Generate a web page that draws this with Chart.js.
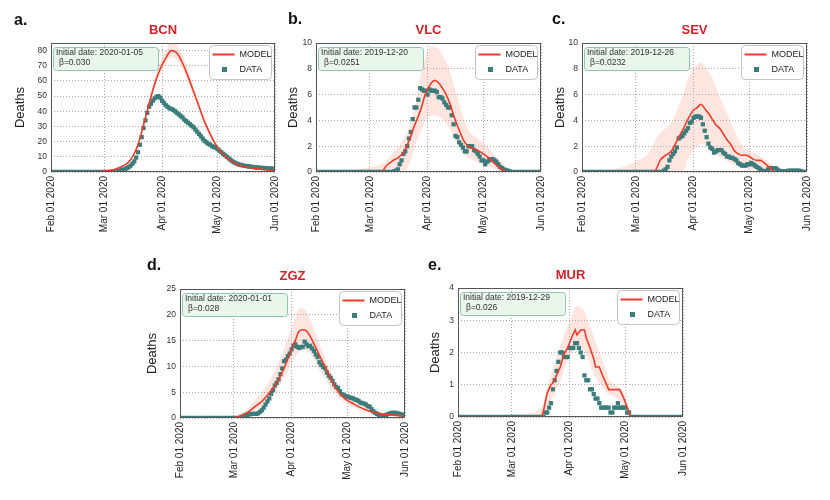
<!DOCTYPE html>
<html>
<head>
<meta charset="utf-8">
<script src="https://cdn.jsdelivr.net/npm/chart.js@4.4.1/dist/chart.umd.min.js"></script>
<style>
  html, body { margin: 0; padding: 0; background: #fff; }
  #wrap { position: relative; width: 830px; height: 500px; }
  #wrap canvas { position: absolute; left: 0; top: 0; }
</style>
</head>
<body>
<div id="wrap">
  <canvas id="c0" width="830" height="500"></canvas>
  <canvas id="c1" width="830" height="500"></canvas>
  <canvas id="c2" width="830" height="500"></canvas>
  <canvas id="c3" width="830" height="500"></canvas>
  <canvas id="c4" width="830" height="500"></canvas>
</div>
<script>
// x axis: days since Feb 01 2020
const tickDays = [0, 29, 60, 90, 121];
const tickLabels = ['Feb 01 2020', 'Mar 01 2020', 'Apr 01 2020', 'May 01 2020', 'Jun 01 2020'];

const letters = ['a.', 'b.', 'c.', 'd.', 'e.'];
const regions = ['BCN', 'VLC', 'SEV', 'ZGZ', 'MUR'];
const initialDates = ['2020-01-05', '2019-12-20', '2019-12-26', '2020-01-01', '2019-12-29'];
const betas = ['0.030', '0.0251', '0.0232', '0.028', '0.026'];
const yMaxes = [85, 10, 10, 25, 4];
const yTicks = [
  [0, 10, 20, 30, 40, 50, 60, 70, 80],
  [0, 2, 4, 6, 8, 10],
  [0, 2, 4, 6, 8, 10],
  [0, 5, 10, 15, 20, 25],
  [0, 1, 2, 3, 4]
];

// BCN
const bcnModelDays = [0,10,20,25,29,32,35,38,41,44,47,50,53,56,59,62,65,68,71,74,77,80,83,86,89,92,95,98,101,105,110,115,121];
const bcnModel = [0,0,0.1,0.3,0.6,1.2,2,3.5,5.5,10,18,31,45,58,68,75,80,78.5,72,63,53,43,33,25,18,13,9.5,6.8,5,3.5,2.4,1.6,1];
const bcnHi = [0,0,0.1,0.3,0.7,1.3,2.2,3.8,6,11,19.5,33,47.5,61.5,72,80,85.5,84,77,67,56.5,45.5,35,26.5,19,14,10,7.2,5.3,3.7,2.5,1.7,1.1];
const bcnLo = [0,0,0.1,0.3,0.5,1.1,1.8,3.2,5,9,16.5,29,42.5,55,64.5,71,75.5,74,68,59.5,50,40.5,31,23.5,17,12,9,6.4,4.7,3.3,2.3,1.5,0.9];
const bcnData = [
  0,0,0,0,0,0,0,0,0,0,
  0,0,0,0,0,0,0,0,0,0,
  0,0,0,0,0,0,0,0,0,0,
  0,0,0,0,0,0.3,0.5,0.8,1.2,1.6,
  2,2.5,3.2,4.2,5.5,7,9.5,13,18,23,
  29,34,39,43,45,47,48.5,49.5,50,49,
  47,45.5,44,43,42,41.5,41,40,39,38,
  37,36,34.5,33.5,32.5,31.5,30.5,29.5,28,26.5,
  25,23.5,22,20.5,19.5,18.5,18,17,16.5,16,
  15,14,13,12,11,10,9,8,7,6.3,
  5.7,5.2,4.8,4.5,4.2,4,3.8,3.6,3.5,3.3,
  3.1,3,2.9,2.8,2.7,2.6,2.5,2.4,2.3,2.2,
  2.1,2
];

// VLC
const vlcModelDays = [0,10,20,30,35,38,41,44,47,50,53,56,59,62,64,66,68,70,72,74,76,78,80,83,86,89,92,95,98,101,105,110,121];
const vlcModel = [0,0,0,0,0,0.5,0.85,1.1,1.5,2.4,3.6,4.7,6.1,6.9,7.1,6.9,6.5,6.0,5.3,4.4,3.6,2.9,2.3,1.9,1.75,1.5,1.2,0.8,0.4,0.1,0,0,0];
const vlcHi = [0,0.05,0.15,0.4,0.6,0.9,1.4,1.9,2.5,3.4,5,7.2,9,9.7,9.7,9.5,9,8.5,7.8,6.8,5.8,4.8,3.9,3,2.7,2.3,2,1.5,1,0.6,0.2,0,0];
const vlcLo = [0,0,0,0,0,0,0,0,0,0.5,1.9,3,4,4.4,4.4,4.3,4.1,3.8,3.3,2.8,2.3,1.7,1.3,1.0,0.8,0.6,0.5,0.3,0.1,0,0,0,0];
const vlcData = [
  0,0,0,0,0,0,0,0,0,0,
  0,0,0,0,0,0,0,0,0,0,
  0,0,0,0,0,0,0,0,0,0,
  0,0,0,0,0,0,0,0,0,0,
  0,0,0.05,0.1,0.2,0.6,0.9,1.4,1.6,2.0,
  2.6,3.1,4.1,5.0,5.0,5.6,6.5,6.4,6.3,6.3,
  6.0,6.4,6.3,6.3,6.3,6.2,5.8,5.8,5.7,5.4,
  5.2,5.0,5.0,4.4,3.7,2.8,2.7,2.3,2.1,1.9,
  1.6,1.6,2.0,2.0,2.0,1.7,1.6,1.4,1.2,0.9,
  0.9,0.6,0.8,0.9,1.0,1.0,0.9,0.8,0.6,0.4,
  0.3,0.2,0.15,0.1,0.05,0,0,0,0,0,
  0,0,0,0,0,0,0,0,0,0,
  0,0
];

// SEV
const sevModelDays = [0,10,20,30,36,39,42,45,48,51,54,57,60,62,64,66,68,70,72,74,76,78,80,82,84,86,88,90,92,94,96,98,100,102,104,110,121];
const sevModel = [0,0,0,0,0,0.05,0.9,1.3,1.6,2.4,3.2,4.1,4.8,5.0,5.25,4.9,4.55,4.1,3.65,3.4,2.95,2.5,2.15,1.65,1.4,1.3,1.3,1.2,1.0,0.9,0.9,0.7,0.45,0.2,0,0,0];
const sevHi = [0.02,0.1,0.3,0.9,1.5,2.3,3.0,3.4,3.8,4.8,5.8,7.2,8.0,8.3,8.5,8.2,7.8,7.3,6.6,5.9,5.2,4.5,3.8,3.2,2.6,2.1,1.8,1.6,1.5,1.4,1.2,1.0,0.8,0.6,0.35,0,0];
const sevLo = [0,0,0,0,0,0,0,0,0,0,0,1.0,1.7,2.0,2.2,2.1,1.9,1.7,1.4,1.2,1.0,0.85,0.7,0.55,0.45,0.35,0.3,0.2,0.15,0.1,0.05,0,0,0,0,0,0];
const sevData = [
  0,0,0,0,0,0,0,0,0,0,
  0,0,0,0,0,0,0,0,0,0,
  0,0,0,0,0,0,0,0,0,0,
  0,0,0,0,0,0,0,0,0,0,
  0,0,0,0,0.1,0.2,0.4,0.9,1.2,1.4,
  1.6,1.9,2.6,2.7,2.8,3.0,3.2,3.4,3.8,3.9,
  4.2,4.3,4.3,4.3,4.2,3.7,3.2,2.7,2.2,1.9,
  1.8,1.5,1.6,1.7,1.7,1.7,1.5,1.4,1.2,1.2,
  1.1,1.1,1.0,0.9,0.7,0.6,0.5,0.5,0.5,0.6,
  0.6,0.7,0.6,0.5,0.4,0.3,0.2,0.1,0.05,0.05,
  0.2,0.3,0.3,0.3,0.3,0.2,0.1,0.05,0.05,0.05,
  0.05,0.1,0.1,0.1,0.1,0.1,0.1,0.1,0.05,0,
  0,0
];

// ZGZ
const zgzModelDays = [0,10,20,25,29,32,35,38,41,44,47,50,53,56,59,62,64,66,68,70,72,74,76,78,80,82,84,86,88,90,93,96,99,102,105,108,112,116,121];
const zgzModel = [0,0,0,0.05,0.1,0.3,0.8,1.5,2.4,3.2,4.4,5.8,7.5,9.7,12.4,15,16.8,17.1,16.9,15.8,14.4,12.9,11.4,10,8.5,7,5.7,4.7,4,3.4,2.8,2.2,1.7,1.3,1,0.8,0.7,0.5,0.4];
const zgzHi = [0,0,0.05,0.15,0.3,0.8,1.3,2.5,3.8,5,6.6,8.5,10.8,13.5,16.6,19.5,21.2,21.3,20.6,19,17.2,15.5,13.5,11.7,10,8.3,6.8,5.6,4.7,4,3.4,2.7,2.2,1.7,1.4,1.1,0.9,0.7,0.6];
const zgzLo = [0,0,0,0,0,0.05,0.4,0.9,1.6,2.3,3.1,4.3,5.8,7.8,9.8,11.8,12.8,13.3,13,12.5,11.3,10,8.8,7.6,6.5,5.3,4.4,3.7,3.1,2.6,2.2,1.6,1.2,0.9,0.7,0.55,0.45,0.35,0.3];
const zgzData = [
  0,0,0,0,0,0,0,0,0,0,
  0,0,0,0,0,0,0,0,0,0,
  0,0,0,0,0,0,0,0,0,0,
  0,0,0,0.2,0.3,0.5,0.6,0.7,0.75,0.8,
  0.8,0.8,0.9,1.2,1.5,2.0,2.6,3.2,3.8,4.7,
  5.4,6.3,6.8,7.5,8.5,9.6,11.0,11.3,12.0,12.5,
  13.3,14.0,14.3,13.8,13.6,13.7,13.8,14.8,14.3,13.9,
  14.0,13.5,13.0,12.3,11.8,10.8,10.3,9.9,9.6,8.8,
  8.2,7.8,7.2,6.5,6.0,5.8,5.2,4.6,4.5,4.2,
  4.2,4.0,3.9,3.8,3.6,3.5,3.3,3.0,2.9,2.8,
  2.6,2.3,2.2,1.7,1.3,1.0,0.8,0.6,0.4,0.2,
  0.3,0.6,0.8,0.9,1.0,1.0,1.0,0.9,0.8,0.7,
  0.6,0.5
];

// MUR
const murModelDays = [0,10,20,30,40,45,46,48,50,51,53,55,57,59,61,63,64,66,68,69,71,73,74,76,78,80,81,84,87,89,90,92,93,100,110,121];
const murModel = [0,0,0,0,0,0,0.2,0.75,1.0,1.05,1.3,1.55,1.95,2.15,2.45,2.7,2.55,2.7,2.7,2.45,2.15,1.8,1.55,1.55,1.25,1.0,0.85,0.85,0.85,0.6,0.45,0.15,0,0,0,0];
const murHi = [0,0,0.02,0.08,0.12,0.3,0.45,0.9,1.35,1.5,1.85,2.2,2.55,2.8,3.1,3.4,3.45,3.4,3.3,3.1,2.8,2.5,2.3,2.0,1.7,1.4,1.15,1.0,0.9,0.75,0.55,0.25,0.1,0,0,0];
const murLo = [0,0,0,0,0,0,0.05,0.25,0.5,0.6,0.85,1.1,1.45,1.75,2.0,2.15,2.2,2.15,2.05,1.95,1.65,1.35,1.2,1.05,0.9,0.75,0.7,0.65,0.5,0.3,0.2,0.05,0,0,0,0];
const murData = [
  0,0,0,0,0,0,0,0,0,0,
  0,0,0,0,0,0,0,0,0,0,
  0,0,0,0,0,0,0,0,0,0,
  0,0,0,0,0,0,0,0,0,0,
  0,0,0,0,0,0,0,0.14,0.14,0.29,
  0.43,0.86,1.14,1.43,1.71,2.0,2.0,1.86,1.86,1.86,
  2.14,2.14,2.14,2.29,2.29,2.14,2.0,1.86,1.29,1.14,
  1.14,0.86,0.86,0.71,0.57,0.57,0.43,0.29,0.29,0.29,
  0.29,0.29,0.14,0.14,0.29,0.29,0.43,0.29,0.29,0.29,
  0.29,0.14,0.14,0,0,0,0,0,0,0,
  0,0,0,0,0,0,0,0,0,0,
  0,0,0,0,0,0,0,0,0,0,
  0,0
];

const series = [
  { days: bcnModelDays, model: bcnModel, hi: bcnHi, lo: bcnLo, data: bcnData, smooth: true },
  { days: vlcModelDays, model: vlcModel, hi: vlcHi, lo: vlcLo, data: vlcData, smooth: true },
  { days: sevModelDays, model: sevModel, hi: sevHi, lo: sevLo, data: sevData, smooth: true },
  { days: zgzModelDays, model: zgzModel, hi: zgzHi, lo: zgzLo, data: zgzData, smooth: true },
  { days: murModelDays, model: murModel, hi: murHi, lo: murLo, data: murData, smooth: false }
];

// plot-area boxes in page pixels
const layouts = [
  { left: 51, right: 275, top: 43, bottom: 172, titleX: 20, letterX: 14, letterY: 25 },
  { left: 316, right: 541, top: 43, bottom: 172, titleX: 293, letterX: 288, letterY: 24 },
  { left: 582, right: 807, top: 43, bottom: 172, titleX: 560, letterX: 552, letterY: 24 },
  { left: 180, right: 405, top: 289, bottom: 418, titleX: 152, letterX: 147, letterY: 270 },
  { left: 458, right: 683, top: 288, bottom: 417, titleX: 435, letterX: 428, letterY: 270 }
];

const FONT = "'Liberation Sans', Arial, sans-serif";
const RED = '#f03b2b';
const TEAL = '#3a7d7c';
const BAND = 'rgba(250, 150, 128, 0.25)';
const GRID = '#a8a8a8';
const X_AXIS_H = 66;

function pts(days, vals) {
  return days.map((d, i) => ({ x: d, y: vals[i] }));
}

function daily(vals) {
  return vals.map((v, i) => ({ x: i, y: v }));
}

function rrect(ctx, x, y, w, h, r) {
  ctx.beginPath();
  ctx.moveTo(x + r, y);
  ctx.arcTo(x + w, y, x + w, y + h, r);
  ctx.arcTo(x + w, y + h, x, y + h, r);
  ctx.arcTo(x, y + h, x, y, r);
  ctx.arcTo(x, y, x + w, y, r);
  ctx.closePath();
}

// frame, titles, info box and legend
const decor = {
  id: 'decor',
  afterDraw(chart, args, o) {
    const { ctx, chartArea: a } = chart;
    ctx.save();

    ctx.strokeStyle = '#555';
    ctx.lineWidth = 1;
    ctx.strokeRect(a.left + 0.5, a.top + 0.5, a.right - a.left - 1, a.bottom - a.top - 1);

    ctx.fillStyle = '#111';
    ctx.font = 'bold 16px ' + FONT;
    ctx.textAlign = 'left';
    ctx.textBaseline = 'alphabetic';
    ctx.fillText(o.letter, o.letterX, o.letterY);

    ctx.fillStyle = '#d0232a';
    ctx.font = 'bold 13px ' + FONT;
    ctx.textAlign = 'center';
    ctx.textBaseline = 'middle';
    ctx.fillText(o.region, (a.left + a.right) / 2, a.top - 13);

    // info box
    rrect(ctx, a.left + 2.5, a.top + 4.5, 105, 23, 3);
    ctx.fillStyle = '#eaf6ec';
    ctx.fill();
    ctx.strokeStyle = '#8fc6b2';
    ctx.stroke();
    ctx.fillStyle = '#333';
    ctx.font = '8.5px ' + FONT;
    ctx.textAlign = 'left';
    ctx.fillText('Initial date: ' + o.init, a.left + 5, a.top + 10);
    ctx.fillText('\u03B2=' + o.beta, a.left + 8, a.top + 19.5);

    // legend
    const lx = a.right - 65.5, ly = a.top + 2.5;
    rrect(ctx, lx, ly, 62, 34, 4);
    ctx.fillStyle = '#fff';
    ctx.fill();
    ctx.strokeStyle = '#c4c4c4';
    ctx.stroke();
    ctx.strokeStyle = RED;
    ctx.lineWidth = 2;
    ctx.beginPath();
    ctx.moveTo(lx + 3, ly + 9);
    ctx.lineTo(lx + 25, ly + 9);
    ctx.stroke();
    ctx.fillStyle = TEAL;
    ctx.fillRect(lx + 12.5, ly + 21.5, 5, 5);
    ctx.fillStyle = '#222';
    ctx.font = '9px ' + FONT;
    ctx.fillText('MODEL', lx + 30, ly + 9);
    ctx.fillText('DATA', lx + 30, ly + 24);

    ctx.restore();
  }
};

function makePanel(i) {
  const L = layouts[i];
  const s = series[i];
  const padLeft = L.titleX - 7.8;
  const yWidth = L.left - padLeft;
  const curve = s.smooth ? { cubicInterpolationMode: 'monotone' } : { tension: 0 };

  new Chart(document.getElementById('c' + i), {
    type: 'line',
    data: {
      datasets: [
        Object.assign({ data: pts(s.days, s.lo), borderWidth: 0, borderColor: 'rgba(0,0,0,0)',
          pointRadius: 0, fill: false, order: 3, clip: 0 }, curve),
        Object.assign({ data: pts(s.days, s.hi), borderWidth: 0, borderColor: 'rgba(0,0,0,0)',
          backgroundColor: BAND, pointRadius: 0, fill: '-1', order: 2, clip: 0 }, curve),
        { data: daily(s.data), showLine: false, pointStyle: 'rect', pointRadius: 3,
          pointBackgroundColor: TEAL, pointBorderWidth: 0, pointBorderColor: TEAL, order: 1, clip: 0 },
        Object.assign({ data: pts(s.days, s.model), borderColor: RED, borderWidth: 1.6,
          pointRadius: 0, fill: false, order: 0, clip: 0 }, curve)
      ]
    },
    options: {
      responsive: false,
      animation: false,
      events: [],
      layout: { padding: { left: padLeft, right: 830 - L.right, top: L.top, bottom: 500 - L.bottom - X_AXIS_H } },
      plugins: {
        legend: { display: false },
        tooltip: { enabled: false },
        decor: { letter: letters[i], region: regions[i], init: initialDates[i], beta: betas[i],
                 letterX: L.letterX, letterY: L.letterY }
      },
      scales: {
        x: {
          type: 'linear', min: 0, max: 121,
          afterBuildTicks: sc => { sc.ticks = tickDays.map(v => ({ value: v })); },
          afterFit: sc => { sc.height = X_AXIS_H; },
          ticks: {
            autoSkip: false, minRotation: 90, maxRotation: 90, padding: 4, color: '#222',
            font: { size: 10, family: FONT },
            callback: (v, idx) => tickLabels[idx]
          },
          grid: { color: GRID, drawTicks: false },
          border: { display: false, dash: [1, 2] }
        },
        y: {
          min: 0, max: yMaxes[i],
          afterBuildTicks: sc => { sc.ticks = yTicks[i].map(v => ({ value: v })); },
          afterFit: sc => { sc.width = yWidth; },
          ticks: { autoSkip: false, padding: 4, color: '#333', font: { size: 8.5, family: FONT } },
          title: { display: true, text: 'Deaths', padding: 0, color: '#222', font: { size: 13, family: FONT } },
          grid: { color: GRID, drawTicks: false },
          border: { display: false, dash: [1, 2] }
        }
      }
    },
    plugins: [decor]
  });
}

for (let i = 0; i < 5; i++) makePanel(i);
</script>
</body>
</html>
